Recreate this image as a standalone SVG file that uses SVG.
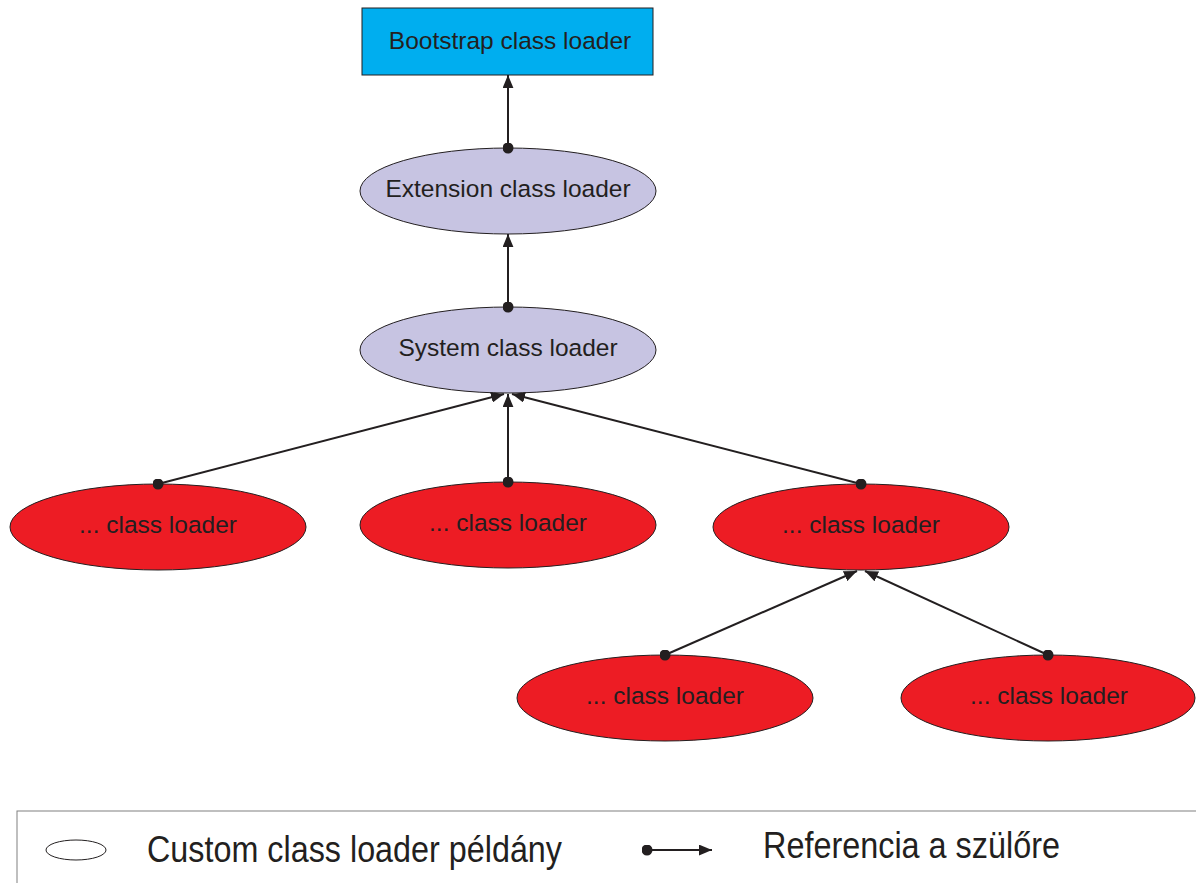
<svg xmlns="http://www.w3.org/2000/svg" width="1196" height="883" viewBox="0 0 1196 883">
<defs>
<marker id="arr" viewBox="0 0 12 10" refX="12" refY="5" markerWidth="13" markerHeight="11" markerUnits="userSpaceOnUse" orient="auto">
<path d="M0,0 L12,5 L0,10 z" fill="#231f20"/>
</marker>
<marker id="dot" viewBox="0 0 10 10" refX="5" refY="5" markerWidth="11" markerHeight="11" markerUnits="userSpaceOnUse">
<circle cx="5" cy="5" r="5" fill="#231f20"/>
</marker>
</defs>
<style>
.lbl{font-family:"Liberation Sans",Arial,sans-serif;font-size:24.5px;fill:#231f20;text-anchor:middle}
.sys{fill:#c7c4e2;stroke:#231f20;stroke-width:1}
.red{fill:#ed1c24;stroke:#231f20;stroke-width:1}
.con{stroke:#231f20;stroke-width:2;fill:none;marker-start:url(#dot);marker-end:url(#arr)}
.leg{font-family:"Liberation Sans",Arial,sans-serif;font-size:36px;fill:#231f20}
</style>
<rect width="1196" height="883" fill="#fff"/>
<g id="bootstrap">
<rect x="362" y="8" width="291" height="67" fill="#00aeef" stroke="#231f20" stroke-width="1"/>
<text class="lbl" x="510" y="49">Bootstrap class loader</text>
</g>
<g id="extension">
<ellipse class="sys" cx="508" cy="191" rx="148" ry="43"/>
<text class="lbl" x="508" y="197">Extension class loader</text>
</g>
<g id="system">
<ellipse class="sys" cx="508" cy="350" rx="148" ry="43"/>
<text class="lbl" x="508" y="356">System class loader</text>
</g>
<g id="custom1">
<ellipse class="red" cx="158" cy="527" rx="148" ry="43"/>
<text class="lbl" x="158" y="533">... class loader</text>
</g>
<g id="custom2">
<ellipse class="red" cx="508" cy="525" rx="148" ry="43"/>
<text class="lbl" x="508" y="531">... class loader</text>
</g>
<g id="custom3">
<ellipse class="red" cx="861" cy="527" rx="148" ry="43"/>
<text class="lbl" x="861" y="533">... class loader</text>
</g>
<g id="custom4">
<ellipse class="red" cx="665" cy="698" rx="148" ry="43"/>
<text class="lbl" x="665" y="704">... class loader</text>
</g>
<g id="custom5">
<ellipse class="red" cx="1048" cy="698" rx="147" ry="43"/>
<text class="lbl" x="1049" y="704">... class loader</text>
</g>
<g id="connectors">
<line class="con" x1="508" y1="148" x2="508" y2="75"/>
<line class="con" x1="508" y1="307" x2="508" y2="234"/>
<line class="con" x1="158" y1="484" x2="504" y2="394"/>
<line class="con" x1="508" y1="482" x2="508" y2="394"/>
<line class="con" x1="861" y1="484" x2="512" y2="394"/>
<line class="con" x1="665" y1="655" x2="857" y2="571"/>
<line class="con" x1="1048" y1="655" x2="865" y2="571"/>
</g>
<g id="legend">
<rect x="17" y="811" width="1185" height="80" fill="#fff" stroke="#808080" stroke-width="1"/>
<ellipse cx="76" cy="850" rx="30" ry="10" fill="#fff" stroke="#231f20" stroke-width="1"/>
<text class="leg" x="147" y="862" textLength="415" lengthAdjust="spacingAndGlyphs">Custom class loader példány</text>
<line class="con" x1="647" y1="850" x2="712" y2="850"/>
<text class="leg" x="763" y="858" textLength="297" lengthAdjust="spacingAndGlyphs">Referencia a szülőre</text>
</g>
</svg>
